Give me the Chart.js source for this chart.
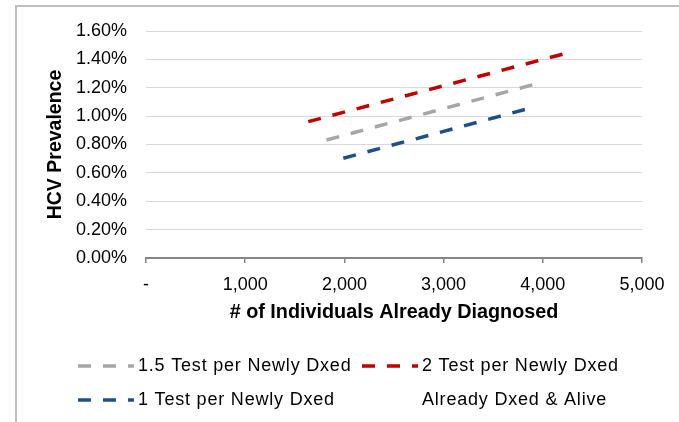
<!DOCTYPE html>
<html><head><meta charset="utf-8">
<script src="https://cdn.jsdelivr.net/npm/chart.js@4/dist/chart.umd.min.js"></script>
<style>html,body{margin:0;padding:0;background:#fff;} canvas{display:block;}</style>
</head><body>
<canvas id="c" width="679" height="422"></canvas>
<script>
// ---- data ----
const seriesNames = ['1.5 Test per Newly Dxed', '2 Test per Newly Dxed', '1 Test per Newly Dxed', 'Already Dxed & Alive'];
const xTest15 = [1820, 3915];
const yTest15 = [0.832, 1.224];
const xTest2 = [1636, 4207];
const yTest2 = [0.961, 1.438];
const xTest1 = [1989, 3838];
const yTest1 = [0.703, 1.050];
const xAlive = [];
const yAlive = [];
const xTickValues = [0, 1000, 2000, 3000, 4000, 5000];
const xTickLabels = ['-', '1,000', '2,000', '3,000', '4,000', '5,000'];
const yTickValues = [0, 0.2, 0.4, 0.6, 0.8, 1.0, 1.2, 1.4, 1.6];
const yTickLabels = ['0.00%', '0.20%', '0.40%', '0.60%', '0.80%', '1.00%', '1.20%', '1.40%', '1.60%'];
const xTitle = '# of Individuals Already Diagnosed';
const yTitle = 'HCV Prevalence';

// ---- styles ----
const colors = ['#A6A6A6', '#C00000', '#1F4E8C', 'rgba(0,0,0,0)'];
const FONT = '"Liberation Sans", Arial, sans-serif';

function pts(xs, ys) { return xs.map((x, i) => ({ x: x, y: ys[i] })); }
const seriesX = [xTest15, xTest2, xTest1, xAlive];
const seriesY = [yTest15, yTest2, yTest1, yAlive];

const datasets = seriesNames.map((name, i) => ({
  label: name,
  data: pts(seriesX[i], seriesY[i]),
  showLine: true,
  borderColor: colors[i],
  backgroundColor: colors[i],
  borderWidth: 3.5,
  borderDash: [13, 12],
  borderCapStyle: 'butt',
  pointRadius: 0,
  pointHoverRadius: 0,
  fill: false,
  tension: 0
}));

const frame = {
  id: 'frame',
  beforeDraw(chart) {
    const ctx = chart.ctx;
    ctx.save();
    ctx.fillStyle = '#ffffff';
    ctx.fillRect(0, 0, chart.width, chart.height);
    ctx.strokeStyle = '#BFBFBF';
    ctx.lineWidth = 2;
    ctx.strokeRect(16, 6, 900, 900);
    ctx.restore();
  }
};

const legendSlots = [
  { x: 78, y: 366 }, { x: 362, y: 366 }, { x: 78, y: 400 }, { x: 362, y: 400 }
];
const customLegend = {
  id: 'customLegend',
  afterDraw(chart) {
    const ctx = chart.ctx;
    chart.data.datasets.forEach((ds, i) => {
      const s = legendSlots[i];
      ctx.save();
      ctx.strokeStyle = ds.borderColor;
      ctx.lineWidth = ds.borderWidth;
      ctx.setLineDash(ds.borderDash);
      ctx.lineCap = 'butt';
      ctx.beginPath();
      ctx.moveTo(s.x, s.y);
      ctx.lineTo(s.x + 56, s.y);
      ctx.stroke();
      ctx.setLineDash([]);
      ctx.fillStyle = '#000';
      ctx.font = '18px ' + FONT;
      try { ctx.letterSpacing = '0.8px'; } catch (e) {}
      ctx.textBaseline = 'middle';
      ctx.textAlign = 'left';
      ctx.fillText(ds.label, s.x + 60, s.y);
      ctx.restore();
    });
  }
};

new Chart(document.getElementById('c'), {
  type: 'scatter',
  data: { datasets: datasets },
  options: {
    responsive: false,
    animation: false,
    devicePixelRatio: 1,
    layout: { padding: { left: 0, top: 31, right: 37, bottom: 94 } },
    plugins: { legend: { display: false }, tooltip: { enabled: false } },
    scales: {
      x: {
        type: 'linear',
        min: xTickValues[0],
        max: xTickValues[xTickValues.length - 1],
        afterBuildTicks(scale) { scale.ticks = xTickValues.map(v => ({ value: v })); },
        afterFit(scale) { scale.height = 70; },
        ticks: {
          color: '#000',
          font: { family: FONT, size: 18 },
          padding: 11,
          maxRotation: 0,
          autoSkip: false,
          callback: (v) => { const i = xTickValues.indexOf(v); return i >= 0 ? xTickLabels[i] : ''; }
        },
        grid: { drawOnChartArea: false, drawTicks: true, tickLength: 5, color: '#868686', lineWidth: 1.5 },
        border: { display: true, color: '#868686', width: 2 },
        title: {
          display: true, text: xTitle, color: '#000',
          font: { family: FONT, size: 19.8, weight: 'bold' },
          padding: { top: 0, bottom: 4 }
        }
      },
      y: {
        type: 'linear',
        min: yTickValues[0],
        max: yTickValues[yTickValues.length - 1],
        afterBuildTicks(scale) { scale.ticks = yTickValues.map(v => ({ value: v })); },
        afterFit(scale) { scale.width = 146; },
        ticks: {
          color: '#000',
          font: { family: FONT, size: 18 },
          padding: 19,
          autoSkip: false,
          callback: (v) => {
            const i = yTickValues.findIndex(t => Math.abs(t - v) < 1e-9);
            return i >= 0 ? yTickLabels[i] : '';
          }
        },
        grid: {
          drawTicks: false,
          color: (c) => (c.tick && c.tick.value === 0) ? '#868686' : '#D9D9D9',
          lineWidth: (c) => (c.tick && c.tick.value === 0) ? 2 : 1
        },
        border: { display: false },
        title: {
          display: true, text: yTitle, color: '#000',
          font: { family: FONT, size: 19.5, weight: 'bold' },
          padding: { top: 44, bottom: 0 }
        }
      }
    }
  },
  plugins: [frame, customLegend]
});
</script>
</body></html>
